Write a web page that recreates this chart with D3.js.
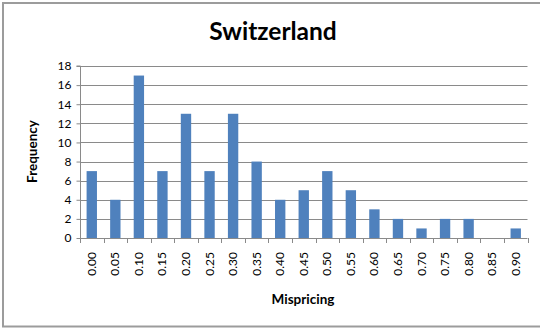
<!DOCTYPE html>
<html>
<head>
<meta charset="utf-8">
<script src="https://cdn.jsdelivr.net/npm/d3@7"></script>
<style>
  html, body { margin: 0; padding: 0; background: #fff; }
  svg { display: block; font-family: Lato, "Open Sans", sans-serif; }
</style>
</head>
<body>
<svg id="chart" width="540" height="329"></svg>
<script>
// Histogram of mispricing frequencies
const categories = ["0.00","0.05","0.10","0.15","0.20","0.25","0.30","0.35","0.40","0.45",
                    "0.50","0.55","0.60","0.65","0.70","0.75","0.80","0.85","0.90"];
const frequencies = [7, 4, 17, 7, 13, 7, 13, 8, 4, 5, 7, 5, 3, 2, 1, 2, 2, 0, 1];
const yTicks = [0, 2, 4, 6, 8, 10, 12, 14, 16, 18];

const svg = d3.select("#chart");
const W = 540, H = 329;
const plot = { left: 80, right: 527.5, top: 66, bottom: 238 };

// outer chart frame (right edge runs past the view)
svg.append("rect")
  .attr("x", 3).attr("y", 3)
  .attr("width", W + 10).attr("height", 323.5)
  .attr("fill", "none").attr("stroke", "#9c9c9c").attr("stroke-width", 2);

const x = d3.scaleBand()
  .domain(categories)
  .range([plot.left, plot.right])
  .paddingInner(0.56).paddingOuter(0.28);

const y = d3.scaleLinear()
  .domain([0, 18])
  .range([plot.bottom, plot.top]);

// horizontal gridlines
svg.append("g")
  .selectAll("line")
  .data(yTicks.filter(d => d > 0))
  .join("line")
  .attr("x1", plot.left).attr("x2", plot.right)
  .attr("y1", d => Math.round(y(d)) + 0.5).attr("y2", d => Math.round(y(d)) + 0.5)
  .attr("stroke", "#8a8a8a").attr("stroke-width", 1);

// bars
svg.append("g")
  .selectAll("rect")
  .data(frequencies)
  .join("rect")
  .attr("x", (d, i) => x(categories[i]))
  .attr("y", d => y(d))
  .attr("width", x.bandwidth())
  .attr("height", d => y(0) - y(d))
  .attr("fill", "#4f81bd");

// y axis
const yAxis = svg.append("g")
  .attr("transform", `translate(${plot.left + 0.5},0)`)
  .call(d3.axisLeft(y).tickValues(yTicks).tickSize(4).tickPadding(5).tickFormat(d3.format("d")));
yAxis.select(".domain").attr("stroke", "#8a8a8a").attr("d", `M-4,${plot.top}H0V${plot.bottom}`);
yAxis.selectAll(".tick line").attr("stroke", "#8a8a8a");
yAxis.selectAll(".tick text").attr("font-size", 12).attr("fill", "#000").attr("font-family", "Lato, sans-serif");

// x axis line with boundary ticks between categories
const xAxisG = svg.append("g");
xAxisG.append("line")
  .attr("x1", plot.left).attr("x2", plot.right)
  .attr("y1", plot.bottom + 0.5).attr("y2", plot.bottom + 0.5)
  .attr("stroke", "#8a8a8a");
const step = (plot.right - plot.left) / categories.length;
xAxisG.selectAll("line.tk")
  .data(d3.range(categories.length + 1))
  .join("line")
  .attr("class", "tk")
  .attr("x1", i => Math.round(plot.left + i * step) + 0.5)
  .attr("x2", i => Math.round(plot.left + i * step) + 0.5)
  .attr("y1", plot.bottom).attr("y2", plot.bottom + 5)
  .attr("stroke", "#8a8a8a");

// rotated category labels
xAxisG.selectAll("text")
  .data(categories)
  .join("text")
  .attr("transform", d => `translate(${x(d) + x.bandwidth() / 2 + 4},252) rotate(-90)`)
  .attr("text-anchor", "end")
  .attr("font-size", 12)
  .attr("fill", "#000")
  .text(d => d);

// title
svg.append("text")
  .attr("x", 273).attr("y", 39.5)
  .attr("text-anchor", "middle")
  .attr("font-size", 24.5).attr("font-weight", "bold")
  .attr("fill", "#000")
  .text("Switzerland");

// axis titles
svg.append("text")
  .attr("x", 303).attr("y", 304)
  .attr("text-anchor", "middle")
  .attr("font-size", 13.5).attr("font-weight", "bold")
  .text("Mispricing");

svg.append("text")
  .attr("transform", "translate(37,151.5) rotate(-90)")
  .attr("text-anchor", "middle")
  .attr("font-size", 13.5).attr("font-weight", "bold")
  .text("Frequency");
</script>
</body>
</html>
